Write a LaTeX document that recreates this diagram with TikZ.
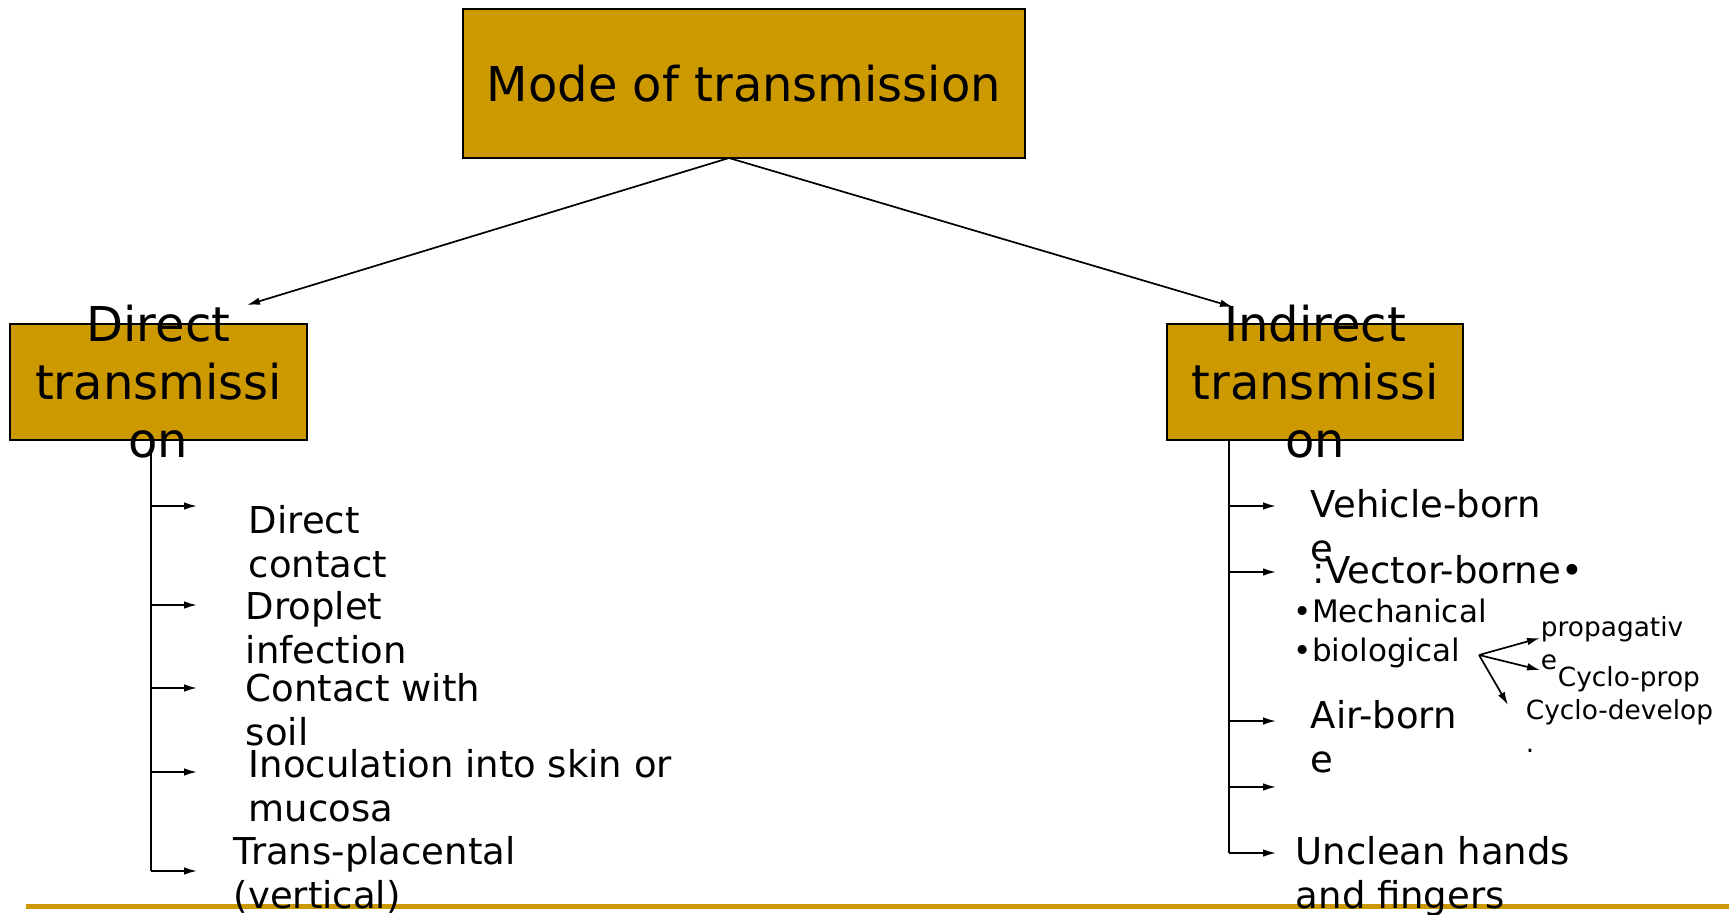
\documentclass[tikz,border=0pt]{standalone}
\usepackage{fontspec}
\setmainfont{DejaVu Sans}
\usetikzlibrary{arrows.meta}
\definecolor{gold}{RGB}{204,153,0}

\begin{document}
\begin{tikzpicture}[x=0.5pt,y=-0.5pt,line width=0.85pt,
    box/.style={draw=black,fill=gold,inner sep=0pt},
    big/.style={font=\fontsize{24pt}{29pt}\selectfont,align=center,inner sep=0pt},
    item/.style={font=\fontsize{18.5pt}{22pt}\selectfont,align=left,anchor=base west,inner sep=0pt},
    sub/.style={font=\fontsize{15.5pt}{19.3pt}\selectfont,align=left,anchor=base west,inner sep=0pt},
    leaf/.style={font=\fontsize{13.2pt}{16.5pt}\selectfont,align=left,anchor=base west,inner sep=0pt},
    arr/.style={-{Latex[length=6.5pt,width=3.8pt]}}]

          \useasboundingbox (0,0) rectangle (1729,915);
          \draw[gold,line width=2.5pt] (26,906) -- (1729,906);

          % boxes
          \node[box,minimum width=281pt,minimum height=74.5pt] (mode) at (744,83.5) {};
          \node[big] (modelbl) at (mode) {Mode of transmission};
          \node[box,minimum width=148.5pt,minimum height=58pt] (direct) at (158.5,382) {};
          \node[big] (directlbl) at (direct) {Direct\\transmissi\\on};
          \node[box,minimum width=148pt,minimum height=58pt] (indirect) at (1315,382) {};
          \node[big] (indirectlbl) at (indirect) {Indirect\\transmissi\\on};

          \coordinate (m0) at (729,158);
          \coordinate (m1) at (247,305);
          \coordinate (m2) at (1233,307);
          \draw[arr] (m0) -- (m1);
          \draw[arr] (m0) -- (m2);

          % direct branch
          \coordinate (d0) at (151,440);
          \coordinate (d1) at (151,506);
          \coordinate (d2) at (151,605);
          \coordinate (d3) at (151,688);
          \coordinate (d4) at (151,772);
          \coordinate (d5) at (151,871);
          \draw (d0) -- (d5);
          \draw[arr] (d1) -- ++(46,0);
          \draw[arr] (d2) -- ++(46,0);
          \draw[arr] (d3) -- ++(46,0);
          \draw[arr] (d4) -- ++(46,0);
          \draw[arr] (d5) -- ++(46,0);
          \node[item] (contact) at (248,577) {Direct\\contact};
          \node[item] (droplet) at (245,663) {Droplet\\infection};
          \node[item] (soil) at (245,745) {Contact with\\soil};
          \node[item] (inoc) at (248,821) {Inoculation into skin or\\mucosa};
          \node[item] (placenta) at (233,908) {Trans-placental\\(vertical)};

          % indirect branch
          \coordinate (i0) at (1229,440);
          \coordinate (i1) at (1229,506);
          \coordinate (i2) at (1229,572);
          \coordinate (i3) at (1229,721);
          \coordinate (i4) at (1229,787);
          \coordinate (i5) at (1229,853);
          \draw (i0) -- (i5);
          \draw[arr] (i1) -- ++(47,0);
          \draw[arr] (i2) -- ++(47,0);
          \draw[arr] (i3) -- ++(47,0);
          \draw[arr] (i4) -- ++(47,0);
          \draw[arr] (i5) -- ++(47,0);
          \node[item] (vehicle) at (1310,561) {Vehicle-born\\e};
          \node[item] (vector) at (1312,583) {:Vector-borne•};
          \node[sub] (kinds) at (1293,661) {•Mechanical\\•biological};
          \node[item] (air) at (1310,772) {Air-born\\e};
          \node[item] (hands) at (1295,908) {Unclean hands\\and fingers};

          % biological
          \coordinate (b0) at (1479,655);
          \coordinate (b1) at (1540,638);
          \coordinate (b2) at (1540,670);
          \coordinate (b3) at (1508,705);
          \draw[arr] (b0) -- (b1);
          \draw[arr] (b0) -- (b2);
          \draw[arr] (b0) -- (b3);
          \node[leaf] (propag) at (1540,669) {propagativ\\e};
          \node[leaf] (cycprop) at (1557,686) {Cyclo-prop};
          \node[leaf] (cycdev) at (1525,752) {Cyclo-develop\\.};
        \end{tikzpicture}
\end{document}
